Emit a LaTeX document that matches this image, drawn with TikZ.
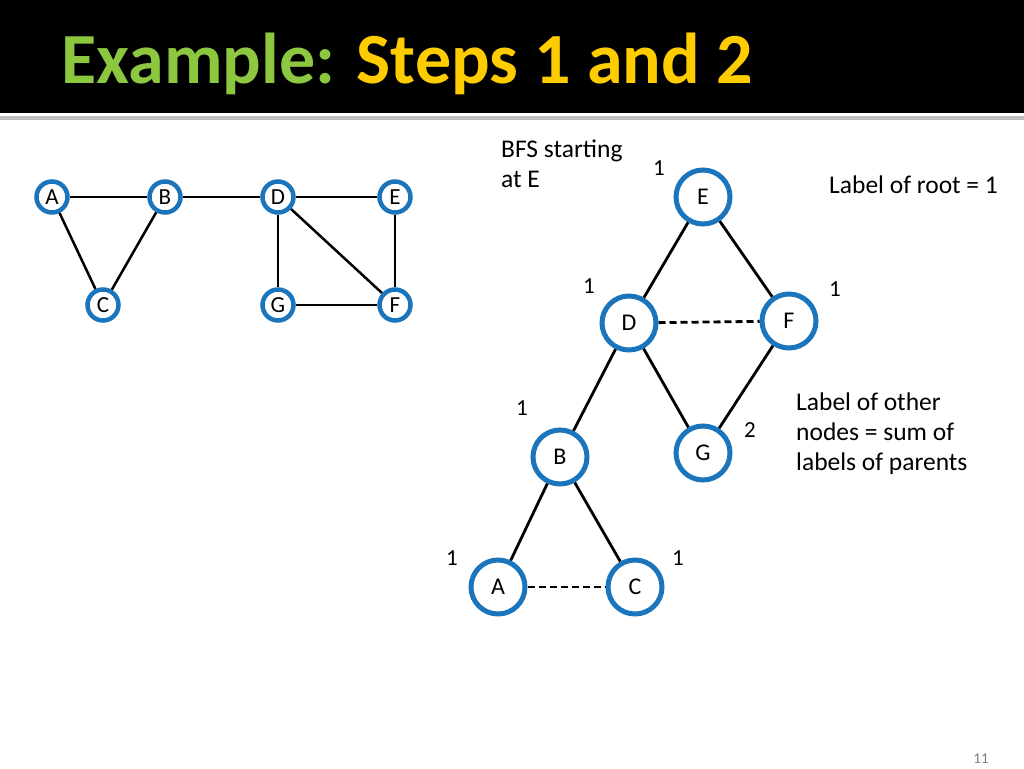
\documentclass[tikz,border=0pt]{standalone}
\usepackage{fontspec}
\setmainfont{Carlito}
\definecolor{nodeblue}{HTML}{1B75BC}
\definecolor{titlegreen}{HTML}{8DC63F}
\definecolor{titleyellow}{HTML}{FFCC00}
\tikzset{
	small/.style = {circle, draw = nodeblue, line width = 4.5pt, fill = white, minimum size = 31pt, inner sep = 0pt, font = \fontsize{23}{25}\selectfont},
	big/.style = {circle, draw = nodeblue, line width = 5pt, fill = white, minimum size = 54pt, inner sep = 0pt, font = \fontsize{24}{26}\selectfont},
	edge/.style = {draw, line width = 2.5pt},
	tree/.style = {draw, line width = 2.8pt},
	cross/.style = {draw, line width = 2.8pt, dashed, dash pattern = on 7pt off 4pt},
	lbl/.style = {font = \fontsize{23}{25}\selectfont},
	txt/.style = {font = \fontsize{25.5}{30}\selectfont, align = left, anchor = north west, inner sep = 0pt},
}
\begin{document}
\begin{tikzpicture}[x = 1pt, y = -1pt]
	\useasboundingbox (0,0) rectangle (1024,768);
	% header
	\fill[black] (0,0) rectangle (1024,113);
	\fill[gray!50] (0,116) rectangle (1024,120);
	\node[anchor = west, font = \fontsize{72}{80}\selectfont\bfseries] (title) at (58,64) {\textcolor{titlegreen}{Example:} \textcolor{titleyellow}{Steps 1 and 2}};

	% original graph
	\node[small] (a) at (52,197) {A};
	\node[small] (b) at (165,197) {B};
	\node[small] (d) at (278,197) {D};
	\node[small] (e) at (395,197) {E};
	\node[small] (c) at (103,305) {C};
	\node[small] (g) at (278,305) {G};
	\node[small] (f) at (395,305) {F};
	\path[edge] (a) -- (b);
	\path[edge] (b) -- (d);
	\path[edge] (d) -- (e);
	\path[edge] (a) -- (c);
	\path[edge] (b) -- (c);
	\path[edge] (d) -- (g);
	\path[edge] (d) -- (f);
	\path[edge] (e) -- (f);
	\path[edge] (g) -- (f);

	% bfs tree
	\node[big] (te) at (703,197) {E};
	\node[big] (td) at (629,323) {D};
	\node[big] (tf) at (789,321) {F};
	\node[big] (tg) at (703,453) {G};
	\node[big] (tb) at (560,457) {B};
	\node[big] (ta) at (498,587) {A};
	\node[big] (tc) at (635,587) {C};
	\path[tree] (te) -- (td);
	\path[tree] (te) -- (tf);
	\path[tree] (td) -- (tg);
	\path[tree] (tf) -- (tg);
	\path[tree] (td) -- (tb);
	\path[tree] (tb) -- (ta);
	\path[tree] (tb) -- (tc);
	\path[cross] (td) -- (tf);
	\path[cross] (ta) -- (tc);

	% labels
	\node[lbl] (le) at (659,168) {1};
	\node[lbl] (ld) at (589,286) {1};
	\node[lbl] (lf) at (835,289) {1};
	\node[lbl] (lb) at (522,408) {1};
	\node[lbl] (lg) at (750,430) {2};
	\node[lbl] (la) at (452,558) {1};
	\node[lbl] (lc) at (678,558) {1};

	% texts
	\node[txt] (bfs) at (501,140) {BFS starting\\at E};
	\node[txt] (root) at (829,176) {Label of root = 1};
	\node[txt] (other) at (796,393) {Label of other\\nodes = sum of\\labels of parents};
	\node[font = \fontsize{15}{17}\selectfont, text = gray] (page) at (981,759) {11};
\end{tikzpicture}
\end{document}
